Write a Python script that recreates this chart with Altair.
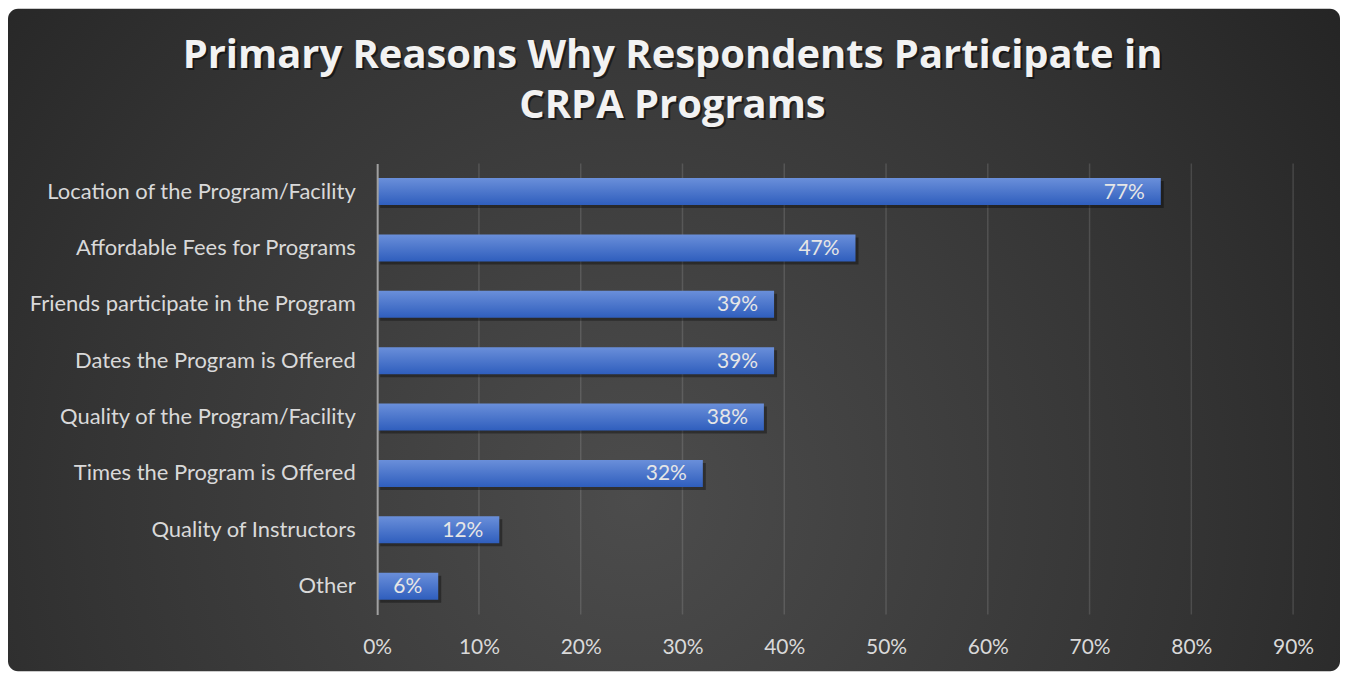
import altair as alt
import pandas as pd

categories = [
    "Location of the Program/Facility",
    "Affordable Fees for Programs",
    "Friends participate in the Program",
    "Dates the Program is Offered",
    "Quality of the Program/Facility",
    "Times the Program is Offered",
    "Quality of Instructors",
    "Other",
]
values = [0.77, 0.47, 0.39, 0.39, 0.38, 0.32, 0.12, 0.06]
labels = ["77%", "47%", "39%", "39%", "38%", "32%", "12%", "6%"]
tick_values = [0.0, 0.1, 0.2, 0.3, 0.4, 0.5, 0.6, 0.7, 0.8, 0.9]
title_lines = ["Primary Reasons Why Respondents Participate in", "CRPA Programs"]

W, H = 918, 452
FONT = "Lato"
TFONT = "Open Sans"

df = pd.DataFrame({"cat": categories, "val": values, "lab": labels})
grid_df = pd.DataFrame({"val": tick_values[1:]})
one = pd.DataFrame({"k": [0]})

bg_grad = alt.RadialGradient(
    gradient="radial",
    x1=0.47, y1=0.62, r1=0.0,
    x2=0.47, y2=0.62, r2=0.75,
    stops=[
        alt.GradientStop(offset=0.0, color="#4c4c4c"),
        alt.GradientStop(offset=0.55, color="#343434"),
        alt.GradientStop(offset=1.0, color="#1e1e1e"),
    ],
)
bar_grad = alt.LinearGradient(
    gradient="linear", x1=0, y1=0, x2=0, y2=1,
    stops=[
        alt.GradientStop(offset=0.0, color="#6a8fda"),
        alt.GradientStop(offset=1.0, color="#2f5ebd"),
    ],
)

bg = alt.Chart(one).mark_rect(fill=bg_grad, cornerRadius=10, clip=False).encode(
    x=alt.value(-370), x2=alt.value(965), y=alt.value(-155), y2=alt.value(509)
)

xscale = alt.Scale(domain=[0, 0.9], nice=False)
xenc = alt.X(
    "val:Q",
    scale=xscale,
    axis=alt.Axis(
        format=".0%", values=tick_values, title=None, labelFlush=False,
        grid=False, domain=False, ticks=False, labelPadding=22,
        labelColor="#d9d9d9", labelFont=FONT, labelFontSize=21, zindex=1,
    ),
)
yenc = alt.Y(
    "cat:N", sort=categories,
    scale=alt.Scale(paddingInner=0.52, paddingOuter=0.26),
    axis=alt.Axis(
        title=None, ticks=False, domain=True, domainColor="#a0a0a0", domainWidth=2,
        labelPadding=22, labelLimit=500, labelColor="#d9d9d9",
        labelFont=FONT, labelFontSize=22, zindex=1,
    ),
)

grid = alt.Chart(grid_df).mark_rule(color="#ffffff", opacity=0.13, strokeWidth=1.5).encode(
    x=alt.X("val:Q", scale=xscale), y=alt.value(0), y2=alt.value(H)
)
shadow = alt.Chart(df).mark_bar(color="#000000", opacity=0.35, xOffset=3, yOffset=3).encode(
    x=xenc, y=yenc
)
bars = alt.Chart(df).mark_bar(color=bar_grad).encode(x="val:Q", y=alt.Y("cat:N", sort=categories))
text = alt.Chart(df).mark_text(
    align="right", baseline="middle", dx=-16, dy=1, color="#e6e6e6", font=FONT, fontSize=21
).encode(x="val:Q", y=alt.Y("cat:N", sort=categories), text="lab:N")

def title_line(s, y, shadow=False):
    return alt.Chart(one).mark_text(
        text=s, align="center", baseline="alphabetic", font=TFONT, fontSize=40,
        fontWeight="bold", color="#000000" if shadow else "#f2f2f2",
        opacity=0.5 if shadow else 1.0, dx=2 if shadow else 0, dy=2 if shadow else 0,
    ).encode(x=alt.value(296), y=alt.value(y))

titles = [
    title_line(title_lines[0], -96, True), title_line(title_lines[1], -45, True),
    title_line(title_lines[0], -96), title_line(title_lines[1], -45),
]

chart = alt.layer(bg, grid, shadow, bars, text, *titles).properties(
    width=W, height=H, padding=0, background="white"
).configure_view(stroke=None)

chart.save("out.html", embed_options={"renderer": "svg", "actions": False})
